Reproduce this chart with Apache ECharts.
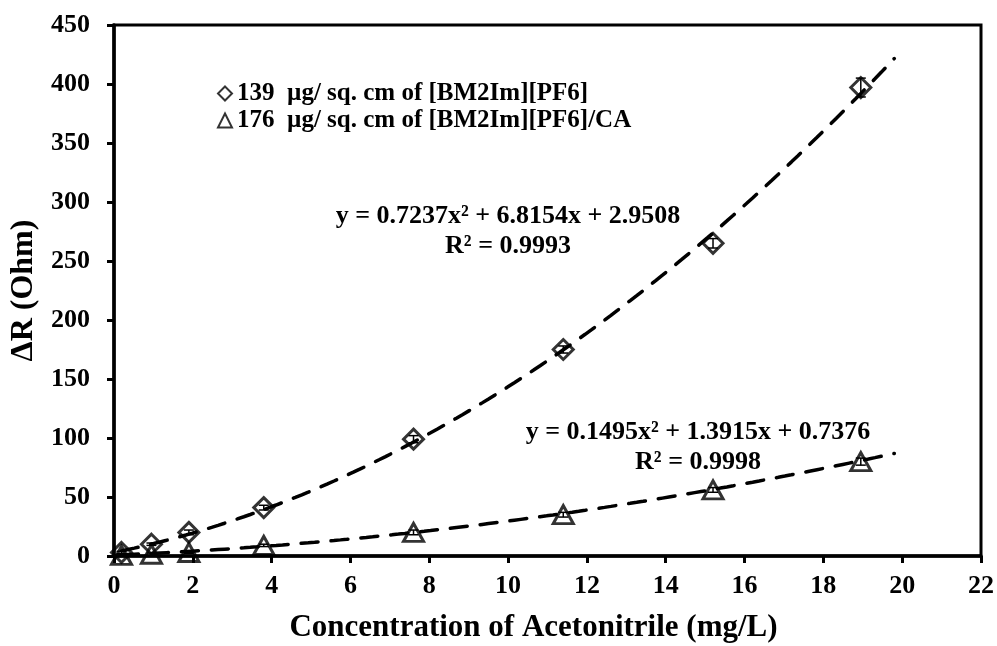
<!DOCTYPE html>
<html>
<head>
<meta charset="utf-8">
<script src="https://cdn.jsdelivr.net/npm/echarts@6/dist/echarts.min.js"></script>
<style>
  html, body { margin: 0; padding: 0; background: #fff; }
  #chart { width: 997px; height: 646px; }
</style>
</head>
<body>
<div id="chart"></div>
<script>
// data
const concentration = [0.19, 0.95, 1.9, 3.8, 7.6, 11.4, 15.2, 18.95];
const deltaR_IL = [3, 10, 20, 41, 99, 175, 265, 397];     // 139 µg/ sq. cm of [BM2Im][PF6]
const deltaR_ILCA = [0.5, 1.5, 3, 9, 20, 35, 56, 80];      // 176 µg/ sq. cm of [BM2Im][PF6]/CA
const err_IL = [1, 1, 2, 2, 3, 3, 4, 8];
const err_ILCA = [1, 1, 1, 1, 2, 2, 2, 3];
const legendNames = ["139  µg/ sq. cm of [BM2Im][PF6]", "176  µg/ sq. cm of [BM2Im][PF6]/CA"];

// polynomial trendlines as printed on the chart (a x^2 + b x + c)
const fit_IL = [0.7237, 6.8154, 2.9508];
const fit_ILCA = [0.1495, 1.3915, 0.7376];
const fitText_IL = "y = 0.7237x² + 6.8154x + 2.9508\nR² = 0.9993";
const fitText_ILCA = "y = 0.1495x² + 1.3915x + 0.7376\nR² = 0.9998";
const trendRange = [0.19, 19.8];

const xTicks = { min: 0, max: 22, interval: 2 };
const yTicks = { min: 0, max: 450, interval: 50 };

const font = "'Liberation Serif', 'Times New Roman', serif";

let trendPoints = (c) => {
  const pts = [];
  const n = 120;
  for (let i = 0; i <= n; i++) {
    const x = trendRange[0] + (trendRange[1] - trendRange[0]) * i / n;
    pts.push([x, c[0] * x * x + c[1] * x + c[2]]);
  }
  return pts;
};

let pairs = (xs, ys, es) => xs.map((x, i) => es ? [x, ys[i], es[i]] : [x, ys[i]]);

let errorBars = (params, api) => {
  const x = api.value(0), y = api.value(1), e = api.value(2);
  const top = api.coord([x, y + e]);
  const bot = api.coord([x, y - e]);
  const w = 5;
  const st = { stroke: "#000", lineWidth: 1.5 };
  return {
    type: "group",
    children: [
      { type: "line", shape: { x1: top[0], y1: top[1], x2: bot[0], y2: bot[1] }, style: st },
      { type: "line", shape: { x1: top[0] - w, y1: top[1], x2: top[0] + w, y2: top[1] }, style: st },
      { type: "line", shape: { x1: bot[0] - w, y1: bot[1], x2: bot[0] + w, y2: bot[1] }, style: st }
    ]
  };
};

const chart = echarts.init(document.getElementById("chart"));

const dashStyle = { color: "#000", width: 3.5, type: [17, 13], cap: "round" };
const markerStyle = { color: "rgba(0,0,0,0)", borderColor: "#000", borderWidth: 3 };

chart.setOption({
  animation: false,
  backgroundColor: "#fff",
  textStyle: { fontFamily: font, fontWeight: "bold", color: "#000" },
  grid: {
    left: 114, right: 16, top: 25, bottom: 90,
    outerBoundsMode: "none", containLabel: false,
    show: true, borderColor: "#000", borderWidth: 3
  },
  legend: {
    orient: "vertical",
    left: 212, top: 76,
    itemWidth: 14, itemHeight: 14, itemGap: 2,
    data: legendNames,
    textStyle: { fontFamily: font, fontWeight: "bold", fontSize: 25, color: "#000" }
  },
  xAxis: {
    type: "value",
    min: xTicks.min, max: xTicks.max, interval: xTicks.interval,
    name: "Concentration of Acetonitrile (mg/L)",
    nameLocation: "middle", nameGap: 56,
    nameTextStyle: { fontFamily: font, fontWeight: "bold", fontSize: 31, color: "#000", padding: [0, 28, 0, 0] },
    axisLine: { lineStyle: { color: "#000", width: 3.5 } },
    axisTick: { inside: false, length: 7, lineStyle: { color: "#000", width: 3 } },
    axisLabel: { margin: 17, fontFamily: font, fontWeight: "bold", fontSize: 26, color: "#000" },
    splitLine: { show: false }
  },
  yAxis: {
    type: "value",
    min: yTicks.min, max: yTicks.max, interval: yTicks.interval,
    name: "ΔR (Ohm)",
    nameLocation: "middle", nameGap: 57, nameRotate: 90,
    nameTextStyle: { fontFamily: font, fontWeight: "bold", fontSize: 32, color: "#000" },
    axisLine: { show: true, lineStyle: { color: "#000", width: 3.5 } },
    axisTick: { show: true, inside: false, length: 7, lineStyle: { color: "#000", width: 3 } },
    axisLabel: { margin: 24, fontFamily: font, fontWeight: "bold", fontSize: 26, color: "#000" },
    splitLine: { show: false }
  },
  graphic: [
    {
      type: "text", x: 508, y: 201,
      style: { text: fitText_IL, align: "center", verticalAlign: "top", font: "bold 26px " + font, fill: "#000", lineHeight: 30 }
    },
    {
      type: "text", x: 698, y: 417,
      style: { text: fitText_ILCA, align: "center", verticalAlign: "top", font: "bold 26px " + font, fill: "#000", lineHeight: 30 }
    }
  ],
  series: [
    {
      name: "trend1", type: "line", data: trendPoints(fit_IL),
      showSymbol: false, smooth: false, lineStyle: dashStyle, z: 2, silent: true
    },
    {
      name: "trend2", type: "line", data: trendPoints(fit_ILCA),
      showSymbol: false, smooth: false, lineStyle: dashStyle, z: 2, silent: true
    },
    {
      name: legendNames[0], type: "scatter", data: pairs(concentration, deltaR_IL),
      symbol: "diamond", symbolSize: [20, 20], itemStyle: markerStyle, z: 4
    },
    {
      name: legendNames[1], type: "scatter", data: pairs(concentration, deltaR_ILCA),
      symbol: "triangle", symbolSize: [20, 18], itemStyle: markerStyle, z: 4
    },
    {
      name: "err1", type: "custom", data: pairs(concentration, deltaR_IL, err_IL),
      renderItem: errorBars, z: 3, silent: true
    },
    {
      name: "err2", type: "custom", data: pairs(concentration, deltaR_ILCA, err_ILCA),
      renderItem: errorBars, z: 3, silent: true
    }
  ]
});
</script>
</body>
</html>
